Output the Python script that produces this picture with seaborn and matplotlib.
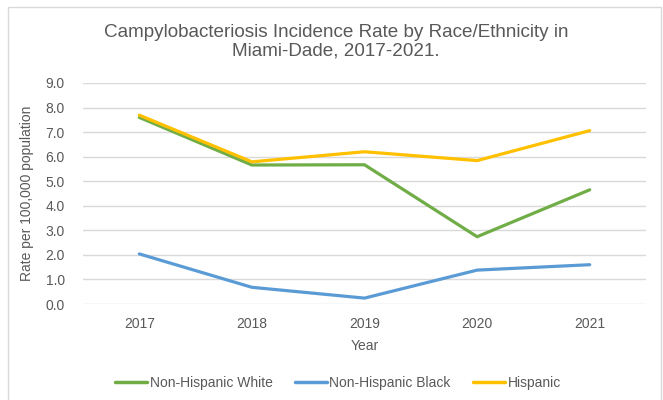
import pandas as pd
import seaborn as sns
import matplotlib.pyplot as plt
from matplotlib.patches import Rectangle

years = [2017, 2018, 2019, 2020, 2021]
white = [7.60, 5.66, 5.67, 2.74, 4.65]
black = [2.04, 0.68, 0.24, 1.38, 1.60]
hispanic = [7.69, 5.79, 6.20, 5.84, 7.06]
groups = ['Non-Hispanic White', 'Non-Hispanic Black', 'Hispanic']
colors = ['#70AD47', '#5B9BD5', '#FFC000']

df = pd.DataFrame({
    'Year': years * 3,
    'Rate': white + black + hispanic,
    'Group': [groups[0]] * 5 + [groups[1]] * 5 + [groups[2]] * 5,
})

sns.set_style('white')
plt.rcParams['font.family'] = ['Liberation Sans', 'DejaVu Sans']
gray = '#595959'

fig = plt.figure(figsize=(6.63, 4.0), dpi=100)
ax = fig.add_axes([83 / 663, 1 - 304 / 400, (646 - 83) / 663, (304 - 83) / 400])

sns.lineplot(data=df, x='Year', y='Rate', hue='Group', hue_order=groups,
             palette=colors, linewidth=2.3, ax=ax, legend=False)

ax.set_xlim(2016.5, 2021.5)
ax.set_ylim(0, 9)
ax.set_xticks(years)
ax.set_xticklabels([str(y) for y in years])
ax.set_yticks([i for i in range(10)])
ax.set_yticklabels(['%.1f' % i for i in range(10)])
ax.tick_params(axis='both', length=0, labelsize=10, colors=gray)
ax.tick_params(axis='y', pad=13)
ax.tick_params(axis='x', pad=9)
ax.grid(axis='y', color='#D9D9D9', linewidth=1)
ax.set_axisbelow(True)
for s in ax.spines.values():
    s.set_visible(False)

ax.set_xlabel('Year', fontsize=10, color=gray, labelpad=6)
ax.set_ylabel('Rate per 100,000 population', fontsize=10, color=gray, labelpad=8)

fig.text(336 / 663, 1 - 42 / 400,
         'Campylobacteriosis Incidence Rate by Race/Ethnicity in\nMiami-Dade, 2017-2021.',
         ha='center', va='center', fontsize=13.6, color=gray, linespacing=1.15)

handles = [plt.Line2D([], [], color=c, linewidth=2.5) for c in colors]
fig.legend(handles, groups, loc='center', bbox_to_anchor=(338 / 663, 1 - 383 / 400),
           ncol=3, frameon=False, fontsize=10, handlelength=2.3, handletextpad=0.2,
           columnspacing=1.6, labelcolor=gray)

fig.patches.append(Rectangle((8 / 663, -0.05), (661 - 8) / 663, 1.05 - 7 / 400,
                             transform=fig.transFigure, fill=False,
                             edgecolor='#D9D9D9', linewidth=1))

plt.savefig('out.png', dpi=100)
